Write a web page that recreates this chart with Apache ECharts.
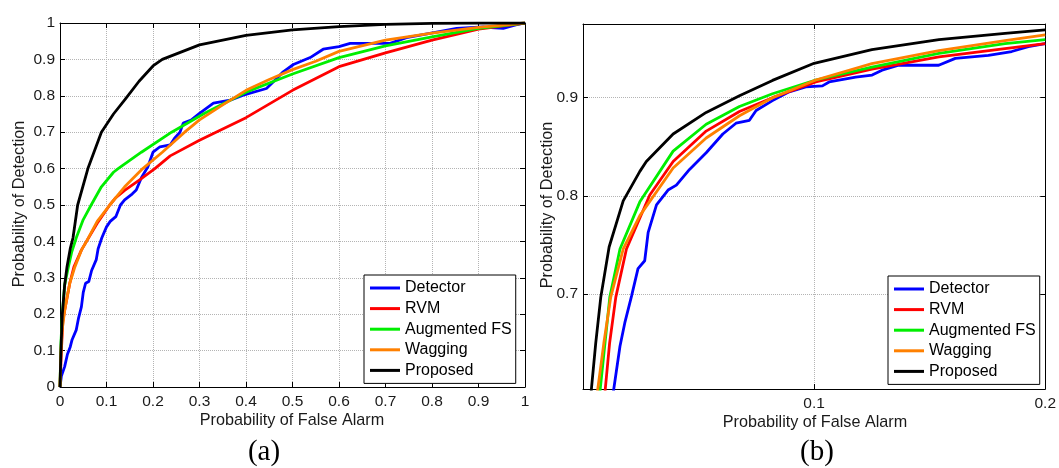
<!DOCTYPE html>
<html>
<head>
<meta charset="utf-8">
<script src="https://cdn.jsdelivr.net/npm/echarts@6/dist/echarts.min.js"></script>
<style>
html,body{margin:0;padding:0;background:#fff;}
#chart{width:1059px;height:468px;}
</style>
</head>
<body>
<div id="chart"></div>
<script>
// ---- Data ----
const seriesNames = ['Detector', 'RVM', 'Augmented FS', 'Wagging', 'Proposed'];
const seriesColors = ['#0000ff', '#ff0000', '#00ee00', '#ff8000', '#000000'];

// Panel (a): [Pfa, Pd]
const detectorA = [[0,0],[0.003,0.03],[0.01,0.056],[0.016,0.09],[0.022,0.11],[0.026,0.13],[0.035,0.157],[0.04,0.19],[0.046,0.22],[0.05,0.26],[0.055,0.285],[0.062,0.29],[0.068,0.32],[0.078,0.35],[0.082,0.38],[0.09,0.41],[0.1,0.44],[0.108,0.455],[0.12,0.468],[0.13,0.5],[0.139,0.514],[0.155,0.53],[0.164,0.541],[0.175,0.575],[0.189,0.605],[0.2,0.645],[0.215,0.66],[0.237,0.665],[0.246,0.683],[0.258,0.7],[0.265,0.725],[0.282,0.733],[0.3,0.752],[0.33,0.78],[0.366,0.788],[0.394,0.802],[0.444,0.82],[0.46,0.84],[0.48,0.866],[0.502,0.886],[0.538,0.905],[0.566,0.928],[0.6,0.935],[0.624,0.944],[0.71,0.944],[0.745,0.96],[0.81,0.975],[0.853,0.985],[0.91,0.989],[0.953,0.985],[0.98,0.995],[1,1]];
const rvmA = [[0,0],[0.003,0.1],[0.006,0.18],[0.01,0.21],[0.021,0.285],[0.03,0.33],[0.046,0.376],[0.057,0.4],[0.08,0.45],[0.107,0.5],[0.12,0.52],[0.139,0.54],[0.172,0.57],[0.204,0.6],[0.237,0.635],[0.3,0.678],[0.4,0.74],[0.5,0.815],[0.6,0.88],[0.7,0.918],[0.8,0.953],[0.9,0.983],[1,1]];
const augA = [[0,0],[0.002,0.12],[0.005,0.2],[0.01,0.28],[0.018,0.33],[0.025,0.37],[0.035,0.41],[0.05,0.46],[0.067,0.5],[0.089,0.55],[0.115,0.59],[0.125,0.6],[0.175,0.645],[0.24,0.7],[0.311,0.752],[0.4,0.81],[0.5,0.86],[0.6,0.905],[0.7,0.937],[0.8,0.962],[0.9,0.985],[1,1]];
const waggingA = [[0,0],[0.002,0.1],[0.005,0.16],[0.01,0.21],[0.021,0.285],[0.032,0.33],[0.046,0.376],[0.057,0.4],[0.08,0.455],[0.107,0.5],[0.139,0.55],[0.178,0.6],[0.22,0.645],[0.268,0.7],[0.3,0.734],[0.35,0.775],[0.4,0.815],[0.45,0.845],[0.5,0.872],[0.55,0.895],[0.6,0.922],[0.7,0.953],[0.8,0.972],[0.9,0.988],[1,1]];
const proposedA = [[0,0],[0.002,0.1],[0.005,0.2],[0.01,0.28],[0.015,0.33],[0.022,0.38],[0.028,0.41],[0.038,0.5],[0.06,0.6],[0.089,0.7],[0.115,0.75],[0.14,0.79],[0.17,0.84],[0.2,0.882],[0.22,0.9],[0.3,0.94],[0.4,0.966],[0.5,0.981],[0.6,0.99],[0.7,0.996],[0.8,0.999],[0.9,1],[1,1]];

// Panel (b): zoomed region
const detectorB = [[0.0131,0.6],[0.016,0.647],[0.0181,0.671],[0.021,0.698],[0.0238,0.726],[0.0267,0.734],[0.0282,0.763],[0.0318,0.791],[0.0368,0.806],[0.0404,0.811],[0.0461,0.827],[0.0533,0.844],[0.0605,0.863],[0.0662,0.874],[0.072,0.877],[0.0749,0.887],[0.082,0.897],[0.0892,0.906],[0.0964,0.911],[0.1036,0.912],[0.1065,0.916],[0.118,0.921],[0.1251,0.923],[0.1294,0.928],[0.1366,0.933],[0.1539,0.933],[0.1611,0.94],[0.1754,0.943],[0.1855,0.947],[0.1927,0.952],[0.2,0.955]];
const rvmB = [[0.0095,0.6],[0.0115,0.65],[0.0142,0.697],[0.0188,0.746],[0.0289,0.801],[0.039,0.835],[0.0533,0.866],[0.0677,0.886],[0.082,0.9],[0.1007,0.916],[0.125,0.929],[0.154,0.9415],[0.1826,0.95],[0.2,0.955]];
const augB = [[0.0073,0.6],[0.0095,0.65],[0.0116,0.697],[0.016,0.746],[0.0246,0.794],[0.039,0.8456],[0.0533,0.873],[0.0677,0.891],[0.082,0.904],[0.1007,0.918],[0.125,0.931],[0.154,0.945],[0.1826,0.955],[0.2,0.959]];
const waggingB = [[0.0062,0.6],[0.009,0.65],[0.012,0.697],[0.0174,0.746],[0.0246,0.78],[0.039,0.8285],[0.0533,0.859],[0.0677,0.8816],[0.082,0.9],[0.1007,0.918],[0.125,0.9347],[0.154,0.948],[0.1826,0.958],[0.2,0.964]];
const proposedB = [[0.0035,0.6],[0.0055,0.65],[0.0077,0.697],[0.0113,0.748],[0.0174,0.795],[0.0246,0.825],[0.0274,0.835],[0.039,0.863],[0.0533,0.885],[0.0677,0.902],[0.082,0.9176],[0.1,0.935],[0.125,0.949],[0.154,0.959],[0.1826,0.9655],[0.2,0.969]];

const xTitle = 'Probability of False Alarm';
const yTitle = 'Probability of Detection';
const panelLabels = ['(a)', '(b)'];
const yTicksB = [0.7, 0.8, 0.9];
const xTicksB = [0, 0.1, 0.2];

const dataA = [detectorA, rvmA, augA, waggingA, proposedA];
const dataB = [detectorB, rvmB, augB, waggingB, proposedB];

// ---- Styling helpers ----
const FONT = '"Liberation Sans", Arial, sans-serif';
const TXT = '#1a1a1a';
const fmt = v => String(Number(v.toFixed(2)));
const GRIDLINE = { color: '#b4b4b4', type: 'dotted', width: 1 };
const AXLINE = { show: true, onZero: false, lineStyle: { color: '#000', width: 1 } };
const TICK = { show: true, inside: true, length: 5, lineStyle: { color: '#000' } };

function mainX(grid, min, max, labelFn) {
  return {
    type: 'value', gridIndex: grid, min, max, interval: 0.1, position: 'bottom',
    axisLine: AXLINE, axisTick: TICK,
    axisLabel: { show: true, color: TXT, fontFamily: FONT, fontSize: 15.5, margin: 7, formatter: labelFn, showMinLabel: true, showMaxLabel: true },
    splitLine: { show: true, lineStyle: GRIDLINE }
  };
}
function mainY(grid, min, max, labelFn) {
  return {
    type: 'value', gridIndex: grid, min, max, interval: 0.1, position: 'left',
    axisLine: AXLINE, axisTick: TICK,
    axisLabel: { show: true, color: TXT, fontFamily: FONT, fontSize: 15.5, margin: 5, formatter: labelFn, showMinLabel: true, showMaxLabel: true },
    splitLine: { show: true, lineStyle: GRIDLINE }
  };
}
function frameAxis(grid, min, max, position) {
  return {
    type: 'value', gridIndex: grid, min, max, interval: 0.1, position,
    axisLine: AXLINE, axisTick: TICK,
    axisLabel: { show: false }, splitLine: { show: false }
  };
}
// panel (b) y axis: range 0.6035..0.975 with ticks only at 0.7/0.8/0.9
function customY(grid, min, max, position, withLabels) {
  return {
    type: 'value', gridIndex: grid, min, max, position,
    axisLine: AXLINE,
    axisTick: Object.assign({}, TICK, { customValues: yTicksB }),
    axisLabel: withLabels
      ? { show: true, customValues: yTicksB, color: TXT, fontFamily: FONT, fontSize: 15.5, margin: 5, formatter: v => fmt(v) }
      : { show: false },
    splitLine: withLabels ? { show: true, customValues: yTicksB, lineStyle: GRIDLINE } : { show: false }
  };
}

const series = [];
[dataA, dataB].forEach((set, p) => {
  set.forEach((d, i) => {
    series.push({
      type: 'line', name: seriesNames[i], xAxisIndex: p * 2, yAxisIndex: p * 2,
      data: d, symbol: 'none', smooth: false, clip: true,
      lineStyle: { color: seriesColors[i], width: 2.8 },
      itemStyle: { color: seriesColors[i] },
      emphasis: { disabled: true }, animation: false
    });
  });
});

function legendAt(left, top, itemWidth) {
  return {
    show: true, orient: 'vertical', left, top,
    data: seriesNames, icon: 'rect', itemWidth, itemHeight: 3, itemGap: 4.6,
    padding: [5, 4, 5, 6],
    borderColor: '#000', borderWidth: 1, backgroundColor: '#fff',
    textStyle: { color: '#000', fontFamily: FONT, fontSize: 16 },
    selectedMode: false, inactiveColor: '#000'
  };
}

const option = {
  backgroundColor: '#fff',
  animation: false,
  grid: [
    { left: 60, top: 23, width: 465, height: 364, show: false },
    { left: 583, top: 24, width: 464, height: 365, show: false }
  ],
  xAxis: [
    mainX(0, 0, 1, v => fmt(v)),
    frameAxis(0, 0, 1, 'top'),
    mainX(1, 0, 0.2, v => (v < 0.05 ? '' : fmt(v))),
    frameAxis(1, 0, 0.2, 'top')
  ],
  yAxis: [
    mainY(0, 0, 1, v => fmt(v)),
    frameAxis(0, 0, 1, 'right'),
    customY(1, 0.6035, 0.975, 'left', true),
    customY(1, 0.6035, 0.975, 'right', false)
  ],
  legend: [legendAt(364, 275, 30), legendAt(888, 276, 30)],
  series,
  graphic: [
    { type: 'text', x: 292, y: 421, style: { text: xTitle, font: '16.2px ' + FONT, fill: TXT, align: 'center', verticalAlign: 'middle' } },
    { type: 'text', x: 815, y: 423, style: { text: xTitle, font: '16.2px ' + FONT, fill: TXT, align: 'center', verticalAlign: 'middle' } },
    { type: 'text', x: 20, y: 204, rotation: Math.PI / 2, style: { text: yTitle, font: '16.2px ' + FONT, fill: TXT, align: 'center', verticalAlign: 'middle' } },
    { type: 'text', x: 548, y: 205, rotation: Math.PI / 2, style: { text: yTitle, font: '16.2px ' + FONT, fill: TXT, align: 'center', verticalAlign: 'middle' } },
    { type: 'text', x: 264, y: 452, style: { text: panelLabels[0], font: '29px "Liberation Serif", "Times New Roman", serif', fill: '#000', align: 'center', verticalAlign: 'middle' } },
    { type: 'text', x: 817, y: 452, style: { text: panelLabels[1], font: '29px "Liberation Serif", "Times New Roman", serif', fill: '#000', align: 'center', verticalAlign: 'middle' } }
  ]
};

const chart = echarts.init(document.getElementById('chart'), null, { renderer: 'canvas' });
chart.setOption(option);
</script>
</body>
</html>
